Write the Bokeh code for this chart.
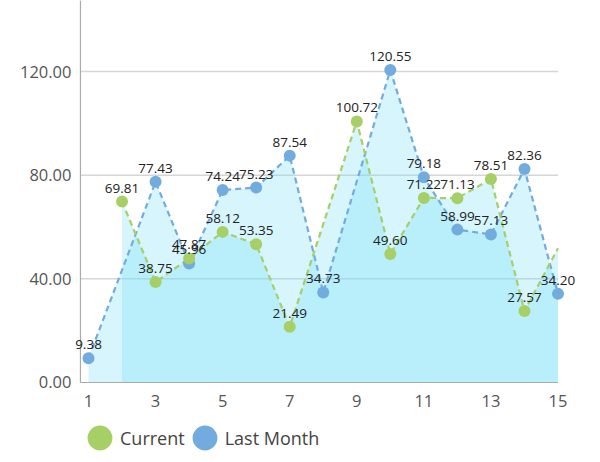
from bokeh.plotting import figure
from bokeh.models import (ColumnDataSource, Range1d, Legend, LegendItem, LabelSet)
from bokeh.core.properties import value
from bokeh.embed import file_html
from bokeh.resources import INLINE

# ---- data ----
current_x = [2, 3, 4, 5, 6, 7, 9, 10, 11, 12, 13, 14, 15]
current_y = [69.81, 38.75, 47.87, 58.12, 53.35, 21.49, 100.72, 49.60, 71.22, 71.13, 78.51, 27.57, 51.8]
current_labeled = [True] * 12 + [False]

last_x = [1, 3, 4, 5, 6, 7, 8, 10, 11, 12, 13, 14, 15]
last_y = [9.38, 77.43, 45.96, 74.24, 75.23, 87.54, 34.73, 120.55, 79.18, 58.99, 57.13, 82.36, 34.20]

x_ticks = [1, 3, 5, 7, 9, 11, 13, 15]
y_ticks = [0, 40, 80, 120]
y_tick_labels = ["%.2f" % t for t in y_ticks]
x_tick_labels = [str(t) for t in x_ticks]

# ---- layout constants (plot area in data units) ----
X_MIN, X_MAX = 0.76, 15.0
Y_TOP = 147.4

GREEN = "#a6cf66"
BLUE = "#72acde"
FILL = "#76def8"
FONT = "Open Sans"

# the frame covers the whole page; axes are drawn from the data ranges
p = figure(width=600, height=462, output_backend="svg", toolbar_location=None,
           x_range=Range1d(-1.624, 16.267), y_range=Range1d(-30.87, Y_TOP),
           min_border=0)
p.outline_line_color = None
p.axis.visible = False
p.grid.visible = False

src_cur = ColumnDataSource(dict(x=current_x, y=current_y))
src_cur_pts = ColumnDataSource(dict(x=[x for x, k in zip(current_x, current_labeled) if k],
                                    y=[y for y, k in zip(current_y, current_labeled) if k],
                                    lab=["%.2f" % y for y, k in zip(current_y, current_labeled) if k]))
src_last = ColumnDataSource(dict(x=last_x, y=last_y, lab=["%.2f" % v for v in last_y]))

# grid lines
p.segment(x0=X_MIN, x1=X_MAX, y0=y_ticks[1:], y1=y_ticks[1:], line_color="#d6d6d6", line_width=1.5)

# areas
p.varea(x="x", y1=0, y2="y", source=src_last, fill_color=FILL, fill_alpha=0.3)
p.varea(x="x", y1=0, y2="y", source=src_cur, fill_color=FILL, fill_alpha=0.3)

# axis lines
p.segment(x0=[X_MIN, X_MIN], x1=[X_MAX, X_MIN], y0=[0, 0], y1=[0, Y_TOP],
          line_color="#aaaaaa", line_width=1.2)

# lines and points
p.line("x", "y", source=src_last, line_color=BLUE, line_width=2.2, line_dash="6 4")
p.line("x", "y", source=src_cur, line_color=GREEN, line_width=2.2, line_dash="6 4")
r_last = p.ellipse("x", "y", source=src_last, width=12, height=12,
                   width_units="screen", height_units="screen",
                   fill_color=BLUE, line_color=None)
r_cur = p.ellipse("x", "y", source=src_cur_pts, width=12, height=12,
                  width_units="screen", height_units="screen",
                  fill_color=GREEN, line_color=None)

for src in (src_cur_pts, src_last):
    p.add_layout(LabelSet(x="x", y="y", text="lab", source=src, y_offset=9,
                          text_align="center", text_baseline="alphabetic",
                          text_font=value(FONT), text_font_size="13.5px", text_color="#222222"))

# tick labels
p.text(x=[X_MIN] * len(y_ticks), y=y_ticks, text=y_tick_labels, x_offset=-9,
       text_align="right", text_baseline="middle", text_font=value(FONT),
       text_font_size="16.5px", text_color="#555555")
p.text(x=x_ticks, y=[0] * len(x_ticks), text=x_tick_labels, y_offset=19,
       text_align="center", text_baseline="middle", text_font=value(FONT),
       text_font_size="16.5px", text_color="#555555")

legend = Legend(items=[LegendItem(label="Current", renderers=[r_cur]),
                       LegendItem(label="Last Month", renderers=[r_last])],
                orientation="horizontal", location=(84, 9),
                glyph_width=31, glyph_height=31, label_standoff=5, spacing=4,
                padding=0, margin=0, border_line_color=None, background_fill_alpha=0,
                label_text_font=FONT, label_text_font_size="18px", label_text_color="#444444")
p.add_layout(legend, "center")

open("out.html", "w").write(file_html(p, INLINE))
